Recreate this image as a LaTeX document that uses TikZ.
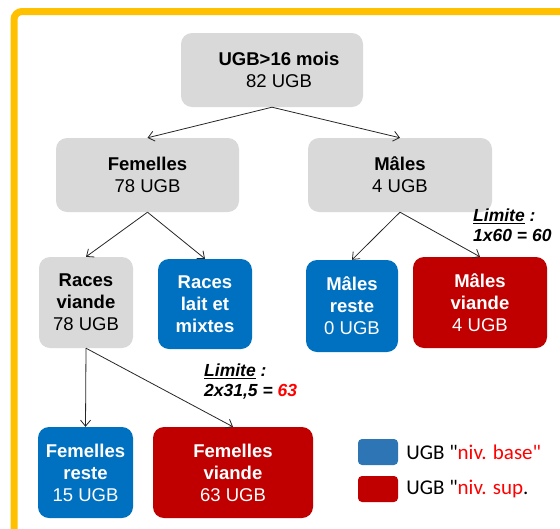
\documentclass[tikz,border=0pt]{standalone}
\usepackage{fontspec}
\setmainfont{Liberation Sans}
\newfontfamily\legendfont{Carlito}
\usetikzlibrary{positioning,arrows.meta}

\definecolor{boxgray}{HTML}{D9D9D9}
\definecolor{boxblue}{HTML}{0070C0}
\definecolor{boxred}{HTML}{C00000}
\definecolor{keyblue}{HTML}{2E75B6}
\definecolor{frameyellow}{HTML}{FFC000}

\tikzset{
  every ugb/.style={rounded corners=11pt, align=center, inner sep=1pt,
    font=\fontsize{18.5}{22}\selectfont},
  ugb gray/.style={every ugb, fill=boxgray, text=black},
  ugb blue/.style={every ugb, fill=boxblue, text=white},
  ugb red/.style={every ugb, fill=boxred, text=white},
  key/.style={rounded corners=4pt, minimum width=40pt, minimum height=26pt, inner sep=0pt},
  limite/.style={align=left, inner sep=0pt, anchor=north west,
    font=\fontsize{17.5}{19.5}\selectfont\bfseries\itshape}
}

\begin{document}
\begin{tikzpicture}[x=1pt, y=-1pt, >={Straight Barb[length=6pt, width=10pt]}]

\useasboundingbox (0,0) rectangle (560,528);

% cadre
\draw [frameyellow, line width=7pt, rounded corners=8pt]
  (14,540) -- (14,11.5) -- (570,11.5);

% premier niveau
\node [ugb gray, minimum width=182pt, minimum height=74pt] (top) at (272,70)
  {\hspace*{14pt}\textbf{UGB>16 mois}\\\hspace*{14pt}82 UGB};

% second niveau
\node [ugb gray, minimum width=183pt, minimum height=74pt] (fem) at (147.5,175)
  {\textbf{Femelles}\\78 UGB};
\node [ugb gray, minimum width=184pt, minimum height=74pt] (male) at (400,175)
  {\textbf{Mâles}\\4 UGB};

% troisieme niveau
\node [ugb gray, minimum width=94pt, minimum height=91pt] (rviande) at (86,302.5)
  {\textbf{Races}\\\textbf{viande}\\78 UGB};
\node [ugb blue, minimum width=94pt, minimum height=90pt] (rlait) at (205,304)
  {\textbf{Races}\\\textbf{lait et}\\\textbf{mixtes}};
\node [ugb blue, minimum width=92pt, minimum height=92pt] (mreste) at (352,306)
  {\textbf{Mâles}\\\textbf{reste}\\0 UGB};
\node [ugb red, minimum width=134pt, minimum height=91pt] (mviande) at (480,302.5)
  {\textbf{Mâles}\\\textbf{viande}\\4 UGB};

% dernier niveau
\node [ugb blue, minimum width=95pt, minimum height=91pt] (freste) at (85.5,472.5)
  {\textbf{Femelles}\\\textbf{reste}\\15 UGB};
\node [ugb red, minimum width=160pt, minimum height=91pt] (fviande) at (233,472.5)
  {\textbf{Femelles}\\\textbf{viande}\\63 UGB};

% fleches
\foreach \a/\b in {top/fem, top/male, fem/rviande, fem/rlait,
                   male/mreste, male/mviande, rviande/freste, rviande/fviande}
  \draw [->, line width=0.8pt, black!85] (\a.south) -- (\b.north);

% limites
\node [limite] (lim-male) at (473,209) {\underline{Limite} :\\1x60 = 60};
\node [limite] (lim-fem) at (204,364) {\underline{Limite} :\\2x31,5 = \textcolor{red}{63}};

% legende
\node [key, fill=keyblue] (key-base) at (378,452) {};
\node [key, fill=boxred] (key-sup) at (378,489) {};
\node [right=8pt of key-base, inner sep=0pt, font=\legendfont\fontsize{21}{24}\selectfont]
  (txt-base) {UGB "\textcolor{red}{niv. base"}};
\node [right=8pt of key-sup, inner sep=0pt, font=\legendfont\fontsize{21}{24}\selectfont]
  (txt-sup) {UGB "\textcolor{red}{niv. sup}.};

\end{tikzpicture}
\end{document}
